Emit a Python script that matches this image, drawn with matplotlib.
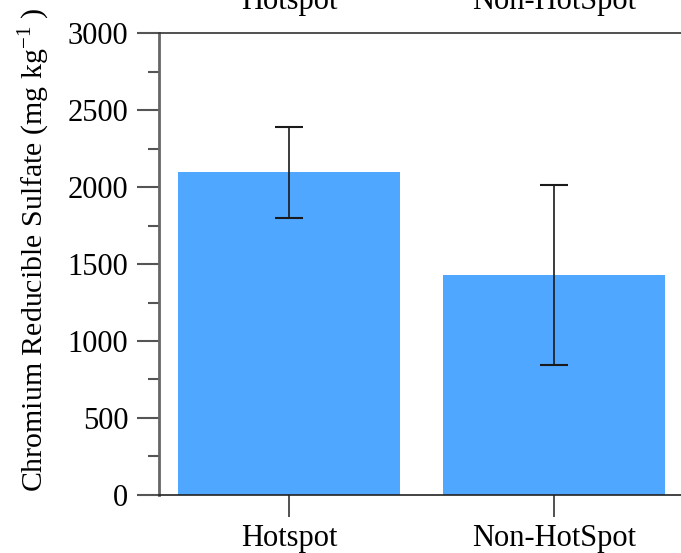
import matplotlib
matplotlib.use('Agg')
import matplotlib.pyplot as plt
from matplotlib.ticker import MultipleLocator

# data
sites = ['Hotspot', 'Non-HotSpot']
crs_mean = [2095, 1430]
crs_err = [295, 585]

plt.rcParams['font.family'] = ['Liberation Serif', 'DejaVu Serif']
plt.rcParams['mathtext.fontset'] = 'custom'
plt.rcParams['mathtext.rm'] = 'Liberation Serif'

fig = plt.figure(figsize=(6.81, 5.53), dpi=100)
ax = fig.add_axes([0.2335, 0.1049, 0.7665, 0.8354])

x = list(range(len(sites)))
ax.bar(x, crs_mean, width=0.84, color='#4FA7FF', zorder=1)
ax.errorbar(x, crs_mean, yerr=crs_err, fmt='none', ecolor='#1a1a1a',
            elinewidth=1.2, capsize=10, capthick=1.5, zorder=2)

ax.set_xlim(-0.49, 1.48)
ax.set_ylim(0, 3000)
ax.set_xticks(x)
ax.set_xticklabels(sites)
ax.yaxis.set_major_locator(MultipleLocator(500))
ax.yaxis.set_minor_locator(MultipleLocator(250))

ax.tick_params(axis='x', which='major', bottom=True, top=False, length=16,
               width=1.2, pad=5, labelsize=22, direction='out', color='#333333')
ax.tick_params(axis='y', which='major', length=16, width=1.5, pad=6,
               labelsize=22, direction='out', color='#555555')
ax.tick_params(axis='y', which='minor', length=8, width=1.5,
               direction='out', color='#555555')

# category names repeated above the top line (cut off by the figure edge)
for i, name in zip(x, sites):
    ax.text(i, 1.052, name, transform=ax.get_xaxis_transform(),
            ha='center', va='baseline', fontsize=22, clip_on=False)

ax.spines['right'].set_visible(False)
ax.spines['left'].set_color('#666666')
ax.spines['left'].set_linewidth(2)
ax.spines['top'].set_color('#333333')
ax.spines['top'].set_linewidth(1.2)
ax.spines['bottom'].set_color('#222222')
ax.spines['bottom'].set_linewidth(1.2)

ax.set_ylabel('Chromium Reducible Sulfate (mg kg$^{\\mathregular{-1}}$ )',
              fontsize=21.5)
ax.yaxis.set_label_coords(-0.205, 0.53)

fig.savefig('out.png', dpi=100)
